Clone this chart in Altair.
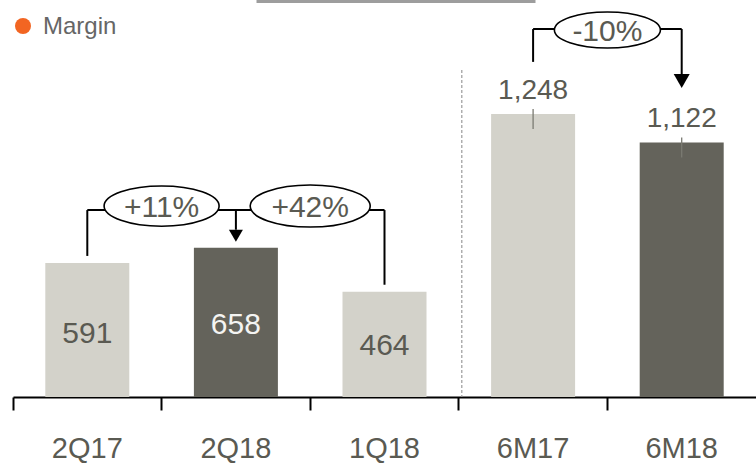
import altair as alt
import pandas as pd

# ---------------- data ----------------
categories = ["2Q17", "2Q18", "1Q18", "6M17", "6M18"]
margin = [591, 658, 464, 1248, 1122]
period = ["comparison", "current", "comparison", "comparison", "current"]

changes = ["+11%", "+42%", "-10%"]
oval_at = ["2Q18", "1Q18", "6M18"]          # oval sits on the left edge of this category slot
legend_label = ["Margin"]

# ---------------- style ----------------
LIGHT = "#d3d2ca"
DARK = "#64635b"
TXT = "#5a5a52"
FONT = "Liberation Sans"
YMAX = 1750
L1 = 824      # level of the left bracket (value units)
L2 = 1622     # level of the right bracket (value units)
SEP_TOP = 1441

df = pd.DataFrame({"cat": categories, "value": margin, "period": period})
ovals = pd.DataFrame({"cat": oval_at, "txt": changes})
bracket = pd.DataFrame({
    "cat": ["2Q17", "1Q18", "6M17", "6M18"],
    "lvl": [L1, L1, L2, L2],
    "grp": ["a", "a", "b", "b"],
})
legend_df = pd.DataFrame({"label": legend_label})

xscale = alt.Scale(domain=categories, paddingInner=0, paddingOuter=0)
yscale = alt.Scale(domain=[0, YMAX], nice=False, zero=False)
xaxis = alt.Axis(
    title=None, bandPosition=0, grid=False,
    domainColor="#000000", domainWidth=2, tickColor="#000000", tickWidth=2,
    tickSize=13, labelFont=FONT, labelFontSize=29, labelColor=TXT,
    labelPadding=24, labelAngle=0,
)


def xenc(bp=None):
    kw = dict(scale=xscale, axis=xaxis)
    if bp is not None:
        kw["bandPosition"] = bp
    return alt.X("cat:N", **kw)


def yf(field):
    return alt.Y(f"{field}:Q", scale=yscale, axis=None)


def only(*cats):
    return alt.FieldOneOfPredicate(field="cat", oneOf=list(cats))


def oval_path(ratio):
    k = 0.5523
    r = ratio
    return (f"M-1,0 C-1,{-k*r:.4f} {-k:.4f},{-r:.4f} 0,{-r:.4f} "
            f"C{k:.4f},{-r:.4f} 1,{-k*r:.4f} 1,0 "
            f"C1,{k*r:.4f} {k:.4f},{r:.4f} 0,{r:.4f} "
            f"C{-k:.4f},{r:.4f} -1,{k*r:.4f} -1,0 Z")


base = alt.Chart(df)
layers = []

# bars
layers.append(base.mark_bar(width=84).encode(
    x=xenc(), y=yf("value"),
    color=alt.Color("period:N", scale=alt.Scale(domain=["comparison", "current"],
                                                range=[LIGHT, DARK]), legend=None),
))

# dashed separator between quarters and half-years
layers.append(base.transform_filter(only("6M17")).transform_calculate(
    top=str(SEP_TOP), bot="0"
).mark_rule(
    strokeDash=[3, 2], color="#9b9b9b", strokeWidth=1.2, xOffset=3
).encode(x=xenc(0), y=yf("top"), y2="bot:Q"))

# leader ticks for outside labels
layers.append(base.transform_filter(only("6M17", "6M18")).mark_rule(
    color="#7a7a72", strokeWidth=1.3, yOffset=-5, y2Offset=15
).encode(x=xenc(), y=yf("value"), y2="value:Q"))

# value labels
label_style = {
    "2Q17": (TXT, 30, 71),
    "2Q18": ("#f4f4f2", 30, 77),
    "1Q18": (TXT, 30, 54),
    "6M17": (TXT, 28, -23),
    "6M18": (TXT, 28, -23),
}
for c, (col, fs, dy) in label_style.items():
    layers.append(base.transform_filter(only(c)).mark_text(
        font=FONT, fontSize=fs, color=col, baseline="middle", dy=dy
    ).encode(x=xenc(), y=yf("value"), text=alt.Text("value:Q", format=",")))

# brackets
BR = dict(color="#000000", strokeWidth=2)
layers.append(base.transform_filter(only("2Q17", "1Q18")).transform_calculate(lvl=str(L1))
              .mark_rule(yOffset=-7, **BR)
              .encode(x=xenc(), y=yf("value"), y2="lvl:Q"))
layers.append(base.transform_filter(only("6M17")).transform_calculate(lvl=str(L2))
              .mark_rule(yOffset=-52, **BR)
              .encode(x=xenc(), y=yf("value"), y2="lvl:Q"))
layers.append(alt.Chart(bracket).mark_line(**BR).encode(
    x=xenc(), y=yf("lvl"), detail="grp:N"))

# arrows
layers.append(base.transform_filter(only("2Q18")).transform_calculate(lvl=str(L1))
              .mark_rule(y2Offset=-18, **BR)
              .encode(x=xenc(), y=yf("lvl"), y2="value:Q"))
layers.append(base.transform_filter(only("2Q18")).mark_point(
    shape="triangle-down", size=196, filled=True, color="#000000", opacity=1, yOffset=-12
).encode(x=xenc(), y=yf("value")))
layers.append(base.transform_filter(only("6M18")).transform_calculate(lvl=str(L2))
              .mark_rule(y2Offset=46, **BR)
              .encode(x=xenc(), y=yf("lvl"), y2="lvl:Q"))
layers.append(base.transform_filter(only("6M18")).transform_calculate(lvl=str(L2))
              .mark_point(shape="triangle-down", size=256, filled=True, color="#000000",
                          opacity=1, yOffset=52)
              .encode(x=xenc(), y=yf("lvl")))

# ovals with percentage changes
oval_style = {
    "+11%": (L1, 13225, 0.35, -4),
    "+42%": (L1, 14400, 0.35, -4),
    "-10%": (L2, 11236, 0.34, 1),
}
for t, (lvl, size, ratio, off) in oval_style.items():
    oc = alt.Chart(ovals).transform_filter(alt.datum.txt == t).transform_calculate(lvl=str(lvl))
    layers.append(oc.mark_point(
        shape=oval_path(ratio), size=size, fill="#ffffff", stroke="#000000",
        strokeWidth=1.6, opacity=1, fillOpacity=1, yOffset=off
    ).encode(x=xenc(0), y=yf("lvl")))
    layers.append(oc.mark_text(
        font=FONT, fontSize=30, color=TXT, baseline="middle", dy=off + 2
    ).encode(x=xenc(0), y=yf("lvl"), text="txt:N"))

# header line at the top
layers.append(alt.Chart(legend_df).mark_rule(color="#9d9d9d", strokeWidth=3).encode(
    x=alt.value(243.5), x2=alt.value(522.5), y=alt.value(1.5)))

# legend
layers.append(alt.Chart(legend_df).mark_point(
    shape="circle", filled=True, size=256, color="#f26522", opacity=1
).encode(x=alt.value(10), y=alt.value(26)))
layers.append(alt.Chart(legend_df).mark_text(
    font=FONT, fontSize=24, color="#666666", align="left", baseline="middle"
).encode(x=alt.value(30), y=alt.value(27), text="label:N"))

chart = alt.layer(*layers).properties(
    width=743, height=397,
    padding={"left": 13, "top": 0, "right": 0, "bottom": 68},
    autosize=alt.AutoSizeParams(type="none"),
).configure_view(strokeWidth=0)

chart.save("out.html", embed_options={"renderer": "svg", "actions": False})
